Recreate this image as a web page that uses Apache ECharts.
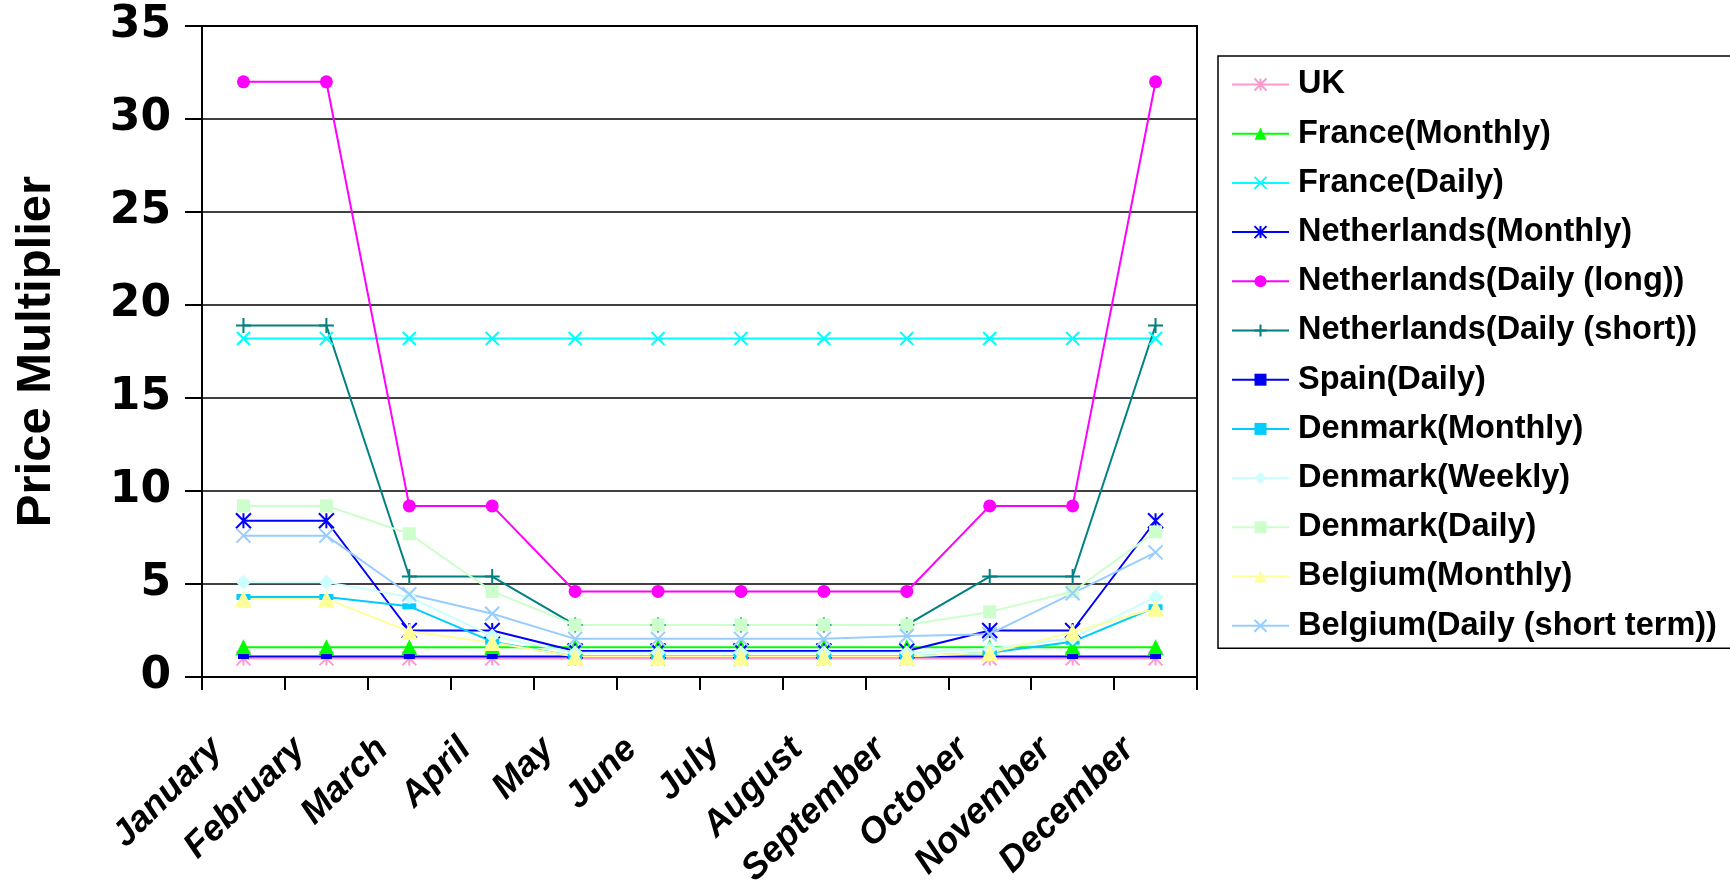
<!DOCTYPE html>
<html>
<head>
<meta charset="utf-8">
<script src="https://cdn.jsdelivr.net/npm/echarts@6/dist/echarts.min.js"></script>
<style>
html,body{margin:0;padding:0;background:#fff;}
#chart{width:1730px;height:880px;}
</style>
</head>
<body>
<div id="chart"></div>
<script>
const months = ['January','February','March','April','May','June','July','August','September','October','November','December'];
const yTicks = [0, 5, 10, 15, 20, 25, 30, 35];
const yAxisTitle = 'Price Multiplier';

const seriesNames = ['UK','France(Monthly)','France(Daily)','Netherlands(Monthly)','Netherlands(Daily (long))','Netherlands(Daily (short))','Spain(Daily)','Denmark(Monthly)','Denmark(Weekly)','Denmark(Daily)','Belgium(Monthly)','Belgium(Daily (short term))'];

const ukValues            = [1, 1, 1, 1, 1, 1, 1, 1, 1, 1, 1, 1];
const franceMonthly       = [1.6, 1.6, 1.6, 1.6, 1.6, 1.6, 1.6, 1.6, 1.6, 1.6, 1.6, 1.6];
const franceDaily         = [18.2, 18.2, 18.2, 18.2, 18.2, 18.2, 18.2, 18.2, 18.2, 18.2, 18.2, 18.2];
const netherlandsMonthly  = [8.4, 8.4, 2.5, 2.5, 1.4, 1.4, 1.4, 1.4, 1.4, 2.5, 2.5, 8.4];
const netherlandsDailyLong  = [32, 32, 9.2, 9.2, 4.6, 4.6, 4.6, 4.6, 4.6, 9.2, 9.2, 32];
const netherlandsDailyShort = [18.9, 18.9, 5.4, 5.4, 2.8, 2.8, 2.8, 2.8, 2.8, 5.4, 5.4, 18.9];
const spainDaily          = [1.1, 1.1, 1.1, 1.1, 1.1, 1.1, 1.1, 1.1, 1.1, 1.1, 1.1, 1.1];
const denmarkMonthly      = [4.3, 4.3, 3.8, 1.9, 1.1, 1.1, 1.1, 1.1, 1.1, 1.3, 1.9, 3.75];
const denmarkWeekly       = [5.1, 5.1, 4.3, 2.2, 1.3, 1.3, 1.3, 1.3, 1.3, 1.5, 2.1, 4.3];
const denmarkDaily        = [9.2, 9.2, 7.7, 4.6, 2.8, 2.8, 2.8, 2.8, 2.8, 3.5, 4.6, 7.8];
const belgiumMonthly      = [4.2, 4.2, 2.45, 1.85, 1.1, 1.1, 1.1, 1.1, 1.1, 1.3, 2.4, 3.7];
const belgiumDailyShort   = [7.6, 7.6, 4.45, 3.4, 2.05, 2.05, 2.05, 2.05, 2.2, 2.3, 4.5, 6.7];

const seriesValues = [ukValues, franceMonthly, franceDaily, netherlandsMonthly, netherlandsDailyLong, netherlandsDailyShort, spainDaily, denmarkMonthly, denmarkWeekly, denmarkDaily, belgiumMonthly, belgiumDailyShort];

const ASTER = 'path://M5,0L5,10M0,0L10,10M10,0L0,10';
const CROSS = 'path://M0,0L10,10M10,0L0,10';
const PLUS = 'path://M5,0L5,10M0,5L10,5';

const styles = [
  {color:'#FF99CC', symbol:ASTER, size:14, stroke:true},
  {color:'#00FF00', symbol:'triangle', size:16},
  {color:'#00FFFF', symbol:CROSS, size:13, stroke:true},
  {color:'#0000FF', symbol:ASTER, size:15, stroke:true},
  {color:'#FF00FF', symbol:'circle', size:13},
  {color:'#008080', symbol:PLUS, size:15, stroke:true},
  {color:'#0000EE', symbol:'rect', size:[11,5]},
  {color:'#00CCFF', symbol:'rect', size:[14,6]},
  {color:'#CCFFFF', symbol:'diamond', size:15},
  {color:'#CCFFCC', symbol:'rect', size:13},
  {color:'#FFFF99', symbol:'triangle', size:17},
  {color:'#99CCFF', symbol:CROSS, size:14, stroke:true}
];

const FONT = '"Liberation Sans", Arial, sans-serif';

const series = seriesNames.map((name, i) => {
  const s = styles[i];
  return {
    name: name,
    type: 'line',
    data: seriesValues[i],
    symbol: s.symbol,
    symbolSize: s.size,
    showAllSymbol: true,
    lineStyle: {color: s.color, width: 2},
    itemStyle: s.stroke ? {color: s.color, borderColor: s.color, borderWidth: 2} : {color: s.color, borderWidth: 0},
    emphasis: {disabled: true},
    animation: false
  };
});

const chart = echarts.init(document.getElementById('chart'), null, {renderer: 'canvas'});
chart.setOption({
  backgroundColor: '#ffffff',
  animation: false,
  grid: {left: 202, top: 26, right: 533, bottom: 203, containLabel: false, outerBoundsMode: 'none', show: true, borderColor: '#000', borderWidth: 2, backgroundColor: 'transparent'},
  xAxis: {
    type: 'category',
    data: months,
    boundaryGap: true,
    axisLine: {lineStyle: {color: '#000', width: 2}},
    axisTick: {show: true, length: 13, lineStyle: {color: '#000', width: 2}, alignWithLabel: false},
    axisLabel: {rotate: 45, interval: 0, margin: 40, padding: [0, 38, 0, 0], color: '#000', fontSize: 36, fontWeight: 'bold', fontStyle: 'italic', fontFamily: FONT},
    splitLine: {show: false}
  },
  yAxis: {
    type: 'value',
    min: yTicks[0],
    max: yTicks[yTicks.length - 1],
    interval: 5,
    name: yAxisTitle,
    nameLocation: 'middle',
    nameRotate: 90,
    nameGap: 141,
    nameTextStyle: {color: '#000', fontSize: 49, fontWeight: 'bold', fontFamily: FONT},
    axisLine: {show: true, lineStyle: {color: '#000', width: 2}},
    axisTick: {show: true, length: 17, lineStyle: {color: '#000', width: 2}},
    axisLabel: {margin: 31, color: '#000', fontSize: 44, fontWeight: 'bold', fontFamily: '"DejaVu Sans", sans-serif'},
    splitLine: {show: true, lineStyle: {color: '#000', width: 1.5}}
  },
  legend: {
    orient: 'vertical',
    left: 1218,
    top: 56,
    data: seriesNames,
    itemWidth: 57,
    itemHeight: 15,
    itemGap: 16.2,
    padding: [12, 26, 6, 13],
    borderColor: '#000',
    borderWidth: 1.5,
    backgroundColor: '#fff',
    selectedMode: false,
    textStyle: {color: '#000', fontSize: 32.5, fontWeight: 'bold', fontFamily: FONT, padding: [0, 0, 0, 4]}
  },
  series: series
});
</script>
</body>
</html>
